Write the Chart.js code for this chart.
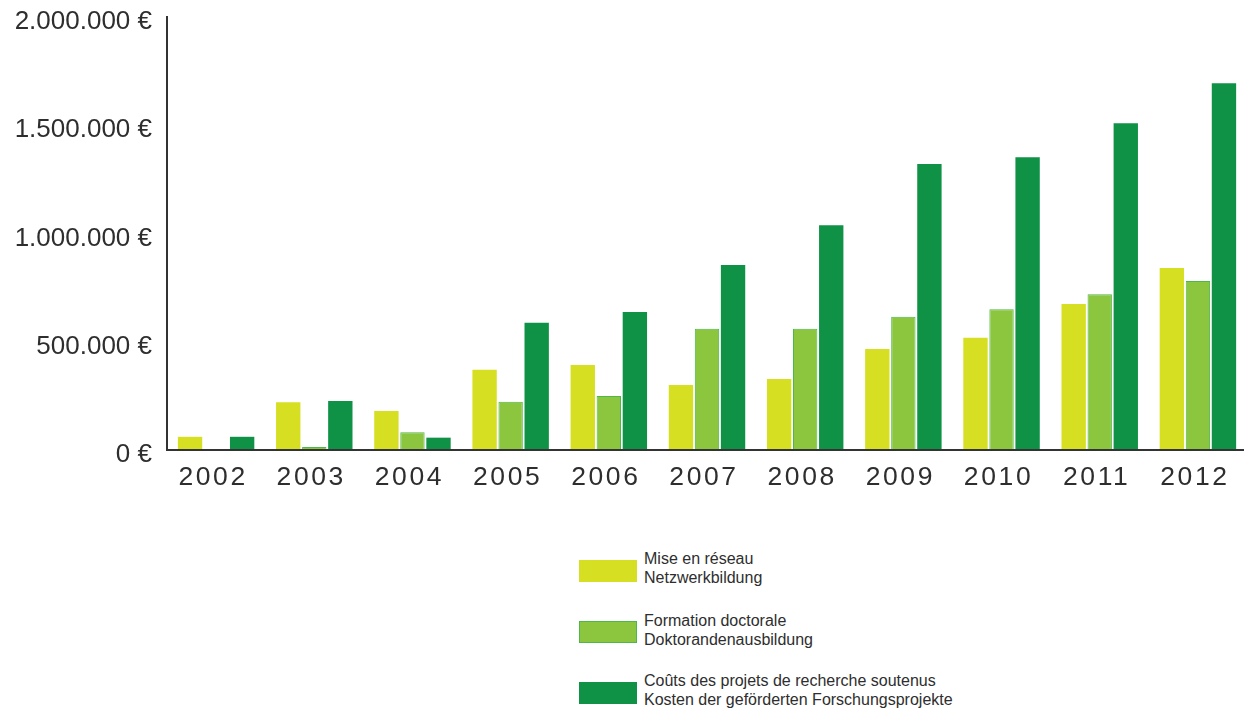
<!DOCTYPE html>
<html>
<head>
<meta charset="utf-8">
<script src="https://cdn.jsdelivr.net/npm/chart.js@4.4.1/dist/chart.umd.min.js"></script>
<style>
  html, body { margin: 0; padding: 0; background: #fff; overflow: hidden; width: 1244px; height: 708px; }
  #wrap { position: absolute; left: 0; top: 0; width: 1247px; height: 500px; }
  .lg { position: absolute; left: 579px; font-family: "Liberation Sans", Arial, sans-serif; font-size: 16px; line-height: 19px; color: #2e2e2e; }
  .lg .box { position: absolute; left: 0; top: 10.5px; width: 58px; height: 22px; box-sizing: border-box; }
  .lg .txt { position: absolute; left: 65px; top: 0; white-space: nowrap; }
</style>
</head>
<body>
<div id="wrap"><canvas id="c" width="1247" height="500"></canvas></div>
<div id="legend"></div>
<script>
const years = ['2002','2003','2004','2005','2006','2007','2008','2009','2010','2011','2012'];
const netzwerk = [61000, 220000, 180000, 371000, 393000, 300000, 328000, 466000, 519000, 674000, 841000];
const doktoranden = [0, 14000, 82000, 223000, 249000, 560000, 560000, 616000, 650000, 719000, 781000];
const forschung = [61000, 226000, 57000, 588000, 637000, 854000, 1038000, 1321000, 1352000, 1509000, 1694000];
const seriesNames = [
  ['Mise en réseau', 'Netzwerkbildung'],
  ['Formation doctorale', 'Doktorandenausbildung'],
  ['Coûts des projets de recherche soutenus', 'Kosten der geförderten Forschungsprojekte']
];
const yMin = 0, yMax = 2000000, yStep = 500000;

function fmtEuro(v) {
  return String(Math.round(v)).replace(/\B(?=(\d{3})+(?!\d))/g, '.') + ' €';
}

const styles = [
  { bg: '#d6df22', border: '#d6df22', bw: 0 },
  { bg: '#8cc63f', border: '#4db848', bw: 1 },
  { bg: '#0f9245', border: '#0f9245', bw: 0 }
];
const seriesData = [netzwerk, doktoranden, forschung];

Chart.defaults.font.family = '"Liberation Sans", Arial, sans-serif';
Chart.defaults.color = '#2e2e2e';

const spacingPlugin = {
  id: 'xLabelSpacing',
  afterDatasetsDraw(chart) { chart.ctx.letterSpacing = '2.6px'; },
  afterDraw(chart) { chart.ctx.letterSpacing = '0px'; }
};

new Chart(document.getElementById('c'), {
  type: 'bar',
  data: {
    labels: years,
    datasets: seriesData.map((d, i) => ({
      label: seriesNames[i].join(' / '),
      data: d,
      backgroundColor: styles[i].bg,
      borderColor: styles[i].border,
      borderWidth: styles[i].bw,
      categoryPercentage: 0.796,
      barPercentage: 0.935
    }))
  },
  options: {
    responsive: false,
    animation: false,
    layout: { padding: { top: 17, right: 0, left: 0, bottom: 0 } },
    plugins: { legend: { display: false }, tooltip: { enabled: false } },
    scales: {
      x: {
        grid: { display: false, drawTicks: false },
        border: { display: true, color: '#333', width: 2, z: 1 },
        ticks: { font: { size: 26.5 }, padding: 12, labelOffset: -3, z: 1, color: '#2e2e2e', maxRotation: 0 },
        afterFit(scale) { scale.height = 50; scale.paddingLeft = 0; scale.paddingRight = 0; }
      },
      y: {
        min: yMin, max: yMax,
        grid: { display: false, drawTicks: false },
        border: { display: true, color: '#333', width: 2 },
        ticks: { stepSize: yStep, font: { size: 26 }, padding: 15, labelOffset: 5, color: '#2e2e2e', callback: v => fmtEuro(v) },
        afterFit(scale) { scale.width = 167; scale.paddingTop = 0; scale.paddingBottom = 0; }
      }
    }
  },
  plugins: [spacingPlugin]
});

// HTML legend built from the series names and styles
const legendTops = [549, 610.5, 671];
const lg = document.getElementById('legend');
seriesNames.forEach((lines, i) => {
  const item = document.createElement('div');
  item.className = 'lg';
  item.style.top = legendTops[i] + 'px';
  const box = document.createElement('div');
  box.className = 'box';
  box.style.background = styles[i].bg;
  if (styles[i].bw) box.style.border = '1px solid ' + styles[i].border;
  const txt = document.createElement('div');
  txt.className = 'txt';
  lines.forEach((t) => {
    const line = document.createElement('div');
    line.textContent = t;
    txt.appendChild(line);
  });
  item.appendChild(box);
  item.appendChild(txt);
  lg.appendChild(item);
});
</script>
</body>
</html>
